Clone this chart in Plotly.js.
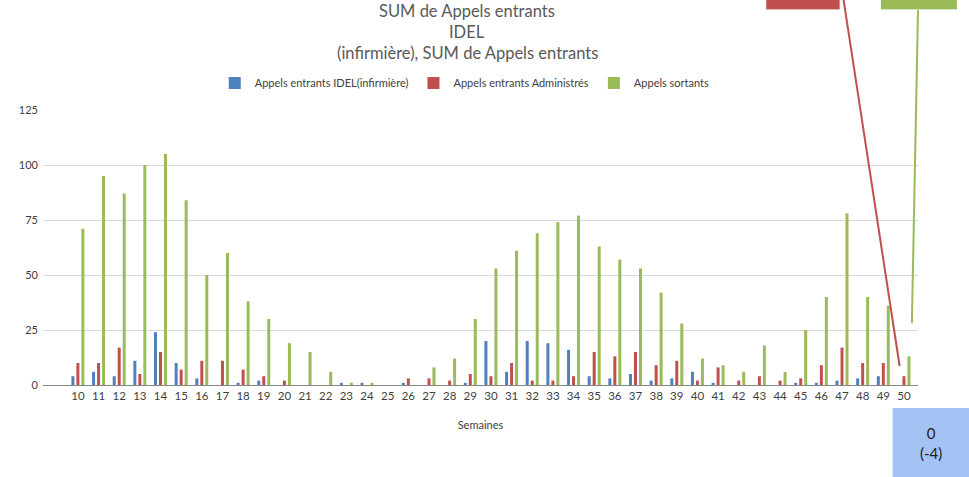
<!DOCTYPE html>
<html>
<head>
<meta charset="utf-8">
<script src="https://cdn.plot.ly/plotly-3.0.1.min.js"></script>
<style>
  html, body { margin: 0; padding: 0; background: #ffffff; }
  #chart { width: 969px; height: 477px; }
</style>
</head>
<body>
<div id="chart"></div>
<script>
// Weeks (Semaines)
const weeks = [10, 11, 12, 13, 14, 15, 16, 17, 18, 19, 20, 21, 22, 23, 24, 25, 26, 27, 28, 29, 30,
               31, 32, 33, 34, 35, 36, 37, 38, 39, 40, 41, 42, 43, 44, 45, 46, 47, 48, 49, 50];

// Series
const seriesNames = ["Appels entrants IDEL(infirmière)", "Appels entrants Administrés", "Appels sortants"];
const idel = [4, 6, 4, 11, 24, 10, 3, 0, 1, 2, 0, 0, 0, 1, 1, 0, 1, 0, 0, 1, 20,
              6, 20, 19, 16, 4, 3, 5, 2, 3, 6, 1, 0, 0, 0, 1, 1, 2, 3, 4, 0];
const administres = [10, 10, 17, 5, 15, 7, 11, 11, 7, 4, 2, 0, 0, 0, 0, 0, 3, 3, 2, 5, 4,
                     10, 2, 2, 4, 15, 13, 15, 9, 11, 2, 8, 2, 4, 2, 3, 9, 17, 10, 10, 4];
const sortants = [71, 95, 87, 100, 105, 84, 50, 60, 38, 30, 19, 15, 6, 1, 1, 0, 0, 8, 12, 30, 53,
                  61, 69, 74, 77, 63, 57, 53, 42, 28, 12, 9, 6, 18, 6, 25, 40, 78, 40, 36, 13];

const yTicks = [0, 25, 50, 75, 100, 125];
const colors = ["#4f81bd", "#c0504d", "#9bbb59"];
const titleLines = ["SUM de Appels entrants", "IDEL", "(infirmière), SUM de Appels entrants"];
const xTitle = "Semaines";
const boxText = "0<br>(-4)";

const FONT = "Lato, 'Open Sans', sans-serif";
const GREY = "#595959";

const traces = [idel, administres, sortants].map((vals, i) => ({
  type: "bar",
  name: seriesNames[i],
  x: weeks,
  y: vals,
  marker: { color: colors[i], line: { width: 0 } },
  hoverinfo: "skip"
}));

// Title lines placed one by one to match the tight line spacing of the reference
const titleY = [1.36, 1.2836, 1.2073];
const titleAnnotations = titleLines.map((t, i) => ({
  xref: "paper", yref: "paper", x: 0.485, y: titleY[i],
  xanchor: "center", yanchor: "middle", showarrow: false, borderpad: 0,
  text: t, font: { family: FONT, size: 16.5, color: GREY }
}));

const layout = {
  width: 969,
  height: 477,
  paper_bgcolor: "#ffffff",
  plot_bgcolor: "#ffffff",
  font: { family: FONT, color: GREY, size: 11 },
  margin: { l: 43, r: 51, t: 110, b: 92, pad: 0 },
  barmode: "group",
  bargap: 0.275,
  bargroupgap: 0.4,
  showlegend: true,
  legend: {
    orientation: "h",
    xref: "paper", x: 0.482, xanchor: "center",
    yref: "paper", y: 1.098, yanchor: "middle",
    font: { family: FONT, size: 11, color: "#404040" },
    traceorder: "normal",
    bgcolor: "rgba(0,0,0,0)"
  },
  xaxis: {
    type: "linear",
    range: [8.31, 50.68],
    tickmode: "array",
    tickvals: weeks,
    ticktext: weeks.map(String),
    ticks: "",
    showgrid: false,
    zeroline: false,
    showline: true,
    linecolor: "#868686",
    linewidth: 1,
    tickfont: { family: FONT, size: 11.5, color: "#404040" },
    title: { text: xTitle, font: { family: FONT, size: 11, color: "#404040" }, standoff: 20 },
    fixedrange: true
  },
  yaxis: {
    range: [0, 125],
    tickmode: "array",
    tickvals: yTicks,
    ticks: "",
    showgrid: true,
    gridcolor: "#d9d9d9",
    gridwidth: 1,
    zeroline: false,
    showline: false,
    tickfont: { family: FONT, size: 11, color: "#404040" },
    ticklabelstandoff: 4,
    fixedrange: true
  },
  shapes: [
    { type: "rect", xref: "paper", yref: "paper", x0: 0.826, x1: 0.911, y0: 1.364, y1: 1.42,
      fillcolor: "#c0504d", line: { color: "#ffffff", width: 1 }, layer: "above" },
    { type: "rect", xref: "paper", yref: "paper", x0: 0.957, x1: 1.045, y0: 1.364, y1: 1.42,
      fillcolor: "#9bbb59", line: { color: "#ffffff", width: 1 }, layer: "above" },
    { type: "line", xref: "paper", yref: "paper", x0: 0.914, y0: 1.42, x1: 0.979, y1: 0.069,
      line: { color: "#c0504d", width: 2 }, layer: "above" },
    { type: "line", xref: "paper", yref: "paper", x0: 1.0, y0: 1.364, x1: 0.993, y1: 0.225,
      line: { color: "#9bbb59", width: 2 }, layer: "above" },
    { type: "rect", xref: "paper", yref: "paper", x0: 0.971, x1: 1.07, y0: -0.36, y1: -0.084,
      fillcolor: "#a4c2f4", line: { width: 0 }, layer: "above" }
  ],
  annotations: titleAnnotations.concat([
    { xref: "paper", yref: "paper", x: 1.015, y: -0.21, xanchor: "center", yanchor: "middle",
      text: boxText, showarrow: false, align: "center",
      font: { family: FONT, size: 15, color: "#202020" } }
  ])
};

Plotly.newPlot("chart", traces, layout, { staticPlot: true, displayModeBar: false });
</script>
</body>
</html>
